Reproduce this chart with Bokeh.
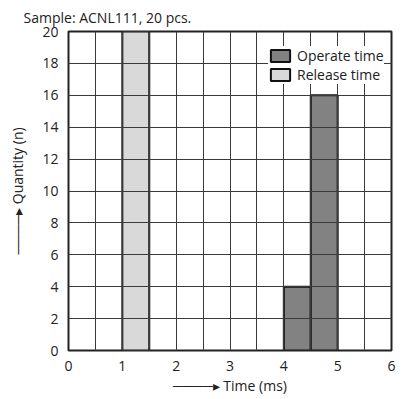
from bokeh.plotting import figure
from bokeh.embed import file_html
from bokeh.resources import INLINE
from bokeh.models import SingleIntervalTicker, Range1d, FixedTicker

# Data
release_left = [1.0]
release_right = [1.5]
release_count = [20]
operate_left = [4.0, 4.5]
operate_right = [4.5, 5.0]
operate_count = [4, 16]
x_ticks = [0, 1, 2, 3, 4, 5, 6]
y_ticks = [0, 2, 4, 6, 8, 10, 12, 14, 16, 18, 20]
title_text = "Sample: ACNL111, 20 pcs."
x_label = "Time (ms)"
y_label = "Quantity (n)"

FONT = "Open Sans"
INK = "#222222"
NB = "\u00a0"
ARROW = "\u2500" * 4 + "\u25b8"

p = figure(width=400, height=398, output_backend="svg", toolbar_location=None,
           x_range=Range1d(0, 6), y_range=Range1d(0, 20),
           min_border_left=68, min_border_right=9, min_border_top=29, min_border_bottom=48)
p.background_fill_color = "white"
p.border_fill_color = "white"
p.outline_line_color = INK
p.outline_line_width = 2

p.quad(left=operate_left, right=operate_right, bottom=0, top=operate_count,
       fill_color="#828282", line_color="#111111", line_width=2, legend_label="Operate time")
p.quad(left=release_left, right=release_right, bottom=0, top=release_count,
       fill_color="#d9d9d9", line_color="#111111", line_width=2, legend_label="Release time")

p.xaxis.ticker = FixedTicker(ticks=x_ticks)
p.yaxis.ticker = FixedTicker(ticks=y_ticks)
p.xgrid.ticker = SingleIntervalTicker(interval=0.5)
p.ygrid.ticker = SingleIntervalTicker(interval=2)
for g in (p.xgrid, p.ygrid):
    g.grid_line_color = "#3a3a3a"
    g.grid_line_width = 1
    g.grid_line_alpha = 1
    g.level = "guide"

for ax in (p.xaxis, p.yaxis):
    ax.axis_line_color = None
    ax.major_tick_line_color = None
    ax.minor_tick_line_color = None
    ax.major_label_text_font = FONT
    ax.major_label_text_font_size = "14px"
    ax.major_label_text_color = INK
    ax.major_label_standoff = 4
    ax.axis_label_text_font = FONT
    ax.axis_label_text_font_size = "14px"
    ax.axis_label_text_font_style = "normal"
    ax.axis_label_text_color = INK

p.xaxis.axis_label = ARROW + NB + x_label
p.xaxis.axis_label_standoff = 2
p.yaxis.axis_label = ARROW + NB + y_label
p.yaxis.axis_label_standoff = 12

p.title.text = title_text
p.title.align = "left"
p.title.offset = -45
p.title.standoff = 10
p.title.text_font = FONT
p.title.text_font_size = "14px"
p.title.text_font_style = "normal"
p.title.text_color = INK

p.legend.location = (200, 266)
p.legend.margin = 0
p.legend.padding = 5
p.legend.spacing = -1
p.legend.border_line_color = None
p.legend.background_fill_alpha = 1
p.legend.label_text_font = FONT
p.legend.label_text_font_size = "14px"
p.legend.label_text_color = INK
p.legend.glyph_width = 24
p.legend.glyph_height = 15
p.legend.label_height = 16
p.legend.label_standoff = 5

open("out.html", "w").write(file_html(p, INLINE))
